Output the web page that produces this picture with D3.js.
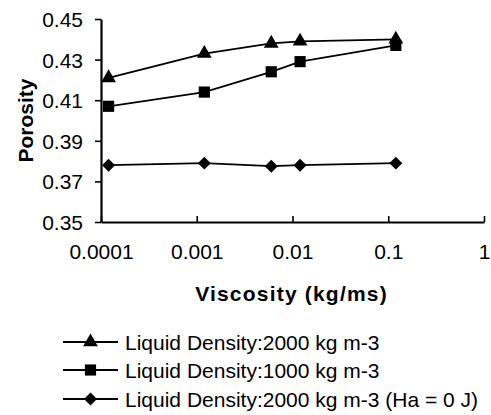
<!DOCTYPE html>
<html>
<head>
<meta charset="utf-8">
<script src="https://cdn.jsdelivr.net/npm/d3@7/dist/d3.min.js"></script>
<style>
  html, body { margin: 0; padding: 0; background: #fff; }
  svg { display: block; }
  text { font-family: "Liberation Sans", Arial, sans-serif; fill: #000; }
</style>
</head>
<body>
<svg id="chart" width="491" height="415"></svg>
<script>
// Viscosity (kg/ms) at which porosity was measured
const viscosity = [0.00012, 0.0012, 0.006, 0.012, 0.12];

// Porosity for each case
const density2000 = [0.421, 0.433, 0.438, 0.439, 0.440];
const density1000 = [0.407, 0.414, 0.424, 0.429, 0.437];
const density2000Ha0 = [0.378, 0.379, 0.3775, 0.378, 0.379];

const seriesNames = [
  "Liquid Density:2000 kg m-3",
  "Liquid Density:1000 kg m-3",
  "Liquid Density:2000 kg m-3 (Ha = 0 J)"
];
const seriesValues = [density2000, density1000, density2000Ha0];
const seriesMarkers = ["triangle", "square", "diamond"];

const xTicks = [0.0001, 0.001, 0.01, 0.1, 1];
const xTickLabels = ["0.0001", "0.001", "0.01", "0.1", "1"];
const yTicks = [0.35, 0.37, 0.39, 0.41, 0.43, 0.45];
const yTickLabels = ["0.35", "0.37", "0.39", "0.41", "0.43", "0.45"];

const svg = d3.select("#chart");

const plotLeft = 101, plotRight = 484, plotTop = 19, plotBottom = 222;

const x = d3.scaleLog().domain([0.0001, 1]).range([plotLeft, plotRight]);
const y = d3.scaleLinear().domain([0.35, 0.45]).range([plotBottom, plotTop]);

// Axes
const xAxis = d3.axisBottom(x)
  .tickValues(xTicks)
  .tickFormat((d, i) => xTickLabels[i])
  .tickSizeInner(-6)
  .tickSizeOuter(0)
  .tickPadding(22);

const yAxis = d3.axisLeft(y)
  .tickValues(yTicks)
  .tickFormat((d, i) => yTickLabels[i])
  .tickSizeInner(6)
  .tickSizeOuter(0)
  .tickPadding(12);

const gx = svg.append("g")
  .attr("transform", `translate(0,${plotBottom})`)
  .call(xAxis);
const gy = svg.append("g")
  .attr("transform", `translate(${plotLeft},0)`)
  .call(yAxis);

[gx, gy].forEach(g => {
  g.select(".domain").attr("stroke", "#000").attr("stroke-width", 2.2);
  g.selectAll(".tick line").attr("stroke", "#000").attr("stroke-width", 1.6);
  g.selectAll(".tick text")
    .style("font-family", '"Liberation Sans", Arial, sans-serif')
    .style("font-size", "21px")
    .attr("fill", "#000");
});
gy.selectAll(".tick text").attr("dy", "0.36em");

// Axis titles
svg.append("text")
  .attr("x", (plotLeft + plotRight) / 2 - 1)
  .attr("y", 301)
  .attr("text-anchor", "middle")
  .style("font-size", "21px")
  .style("font-weight", "bold")
  .style("letter-spacing", "1.2px")
  .text("Viscosity (kg/ms)");

svg.append("text")
  .attr("transform", `translate(33,${(plotTop + plotBottom) / 2}) rotate(-90)`)
  .attr("text-anchor", "middle")
  .style("font-size", "21px")
  .style("font-weight", "bold")
  .text("Porosity");

// Square-proportioned diamond (d3's built-in one is narrow)
const wideDiamond = {
  draw(context, size) {
    const r = Math.sqrt(size / 2);
    context.moveTo(0, -r);
    context.lineTo(r, 0);
    context.lineTo(0, r);
    context.lineTo(-r, 0);
    context.closePath();
  }
};

// Marker shapes
const markerPath = {
  triangle: d3.symbol().type(d3.symbolTriangle).size(95)(),
  square: d3.symbol().type(d3.symbolSquare).size(125)(),
  diamond: d3.symbol().type(wideDiamond).size(84)()
};

const line = d3.line()
  .x((d, i) => x(viscosity[i]))
  .y(d => y(d));

seriesValues.forEach((vals, s) => {
  svg.append("path")
    .datum(vals)
    .attr("d", line)
    .attr("fill", "none")
    .attr("stroke", "#000")
    .attr("stroke-width", 1.8);
  svg.selectAll(null)
    .data(vals)
    .enter()
    .append("path")
    .attr("d", markerPath[seriesMarkers[s]])
    .attr("transform", (d, i) => `translate(${x(viscosity[i])},${y(d)})`)
    .attr("fill", "#000");
});

// Legend
const legend = svg.append("g");
const rowY = [342, 370, 399];
seriesNames.forEach((name, s) => {
  const g = legend.append("g").attr("transform", `translate(0,${rowY[s]})`);
  g.append("line")
    .attr("x1", 63).attr("x2", 118)
    .attr("y1", 0).attr("y2", 0)
    .attr("stroke", "#000").attr("stroke-width", 1.8);
  g.append("path")
    .attr("d", markerPath[seriesMarkers[s]])
    .attr("transform", "translate(90.5,0)")
    .attr("fill", "#000");
  g.append("text")
    .attr("x", 125)
    .attr("y", 0)
    .attr("dy", "0.36em")
    .style("font-size", "21px")
    .text(name);
});
</script>
</body>
</html>
